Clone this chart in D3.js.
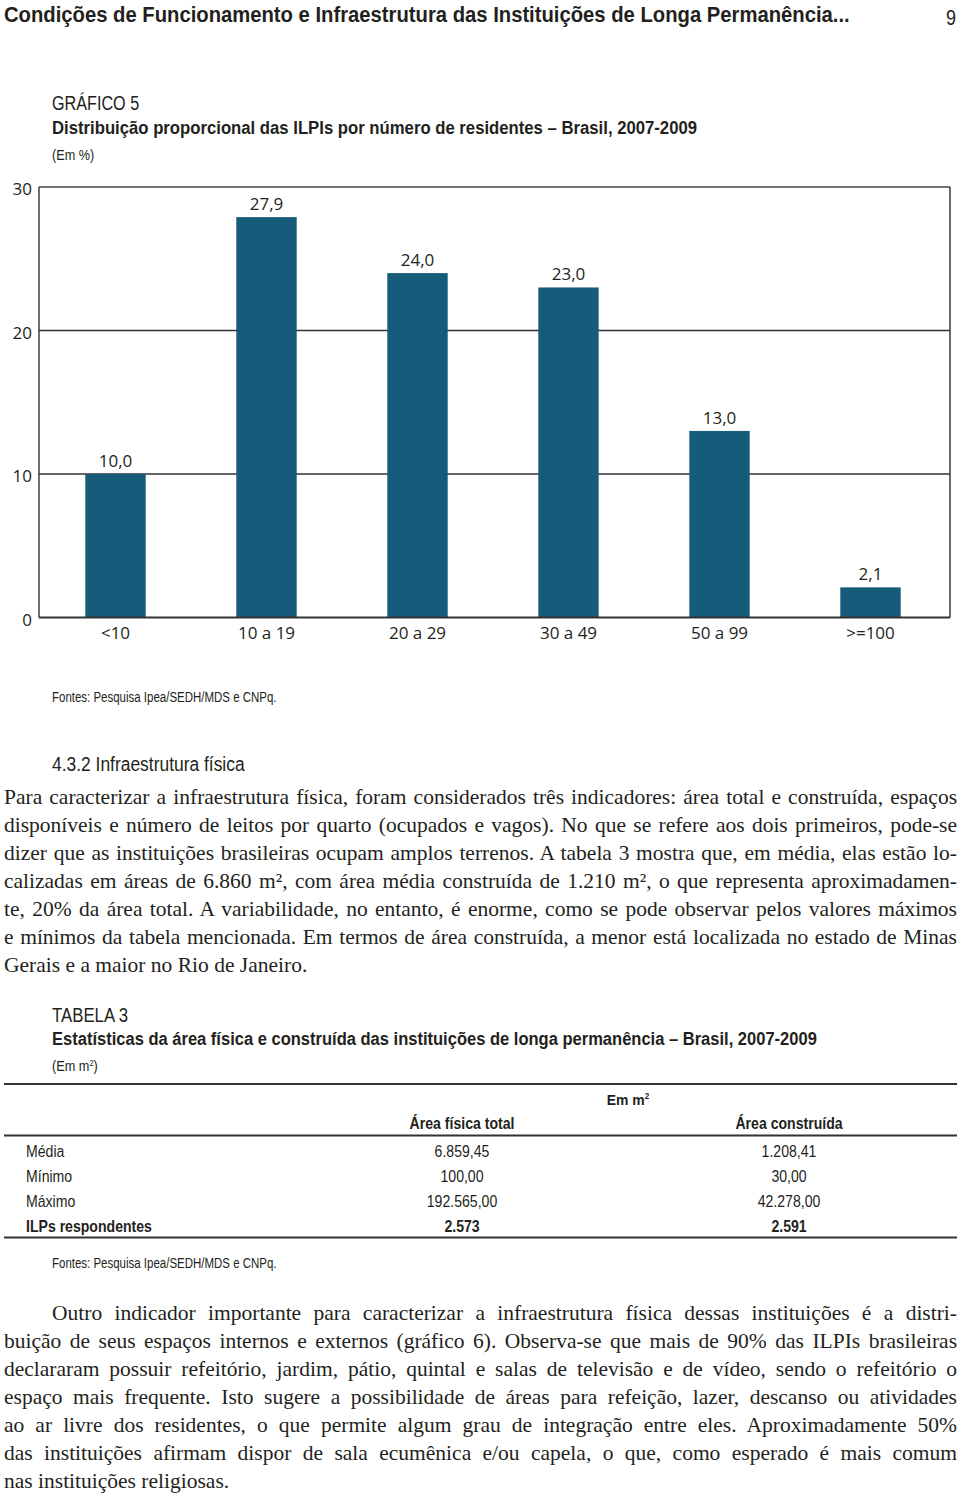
<!DOCTYPE html>
<html><head><meta charset="utf-8">
<script src="https://cdn.jsdelivr.net/npm/d3@7"></script>
<style>body{margin:0;background:#fff}</style></head>
<body>
<svg id="c" width="960" height="1497"></svg>
<script>
const categories = ["<10", "10 a 19", "20 a 29", "30 a 49", "50 a 99", ">=100"];
const values = [10.0, 27.9, 24.0, 23.0, 13.0, 2.1];
const yTicks = [0, 10, 20, 30];
const tableColumns = ["Área física total", "Área construída"];
const tableRows = ["Média", "Mínimo", "Máximo", "ILPs respondentes"];
const areaTotal = ["6.859,45", "100,00", "192.565,00", "2.573"];
const areaBuilt = ["1.208,41", "30,00", "42.278,00", "2.591"];

const para1 = [
 "Para caracterizar a infraestrutura física, foram considerados três indicadores: área total e construída, espaços",
 "disponíveis e número de leitos por quarto (ocupados e vagos). No que se refere aos dois primeiros, pode-se",
 "dizer que as instituições brasileiras ocupam amplos terrenos. A tabela 3 mostra que, em média, elas estão lo-",
 "calizadas em áreas de 6.860 m², com área média construída de 1.210 m², o que representa aproximadamen-",
 "te, 20% da área total. A variabilidade, no entanto, é enorme, como se pode observar pelos valores máximos",
 "e mínimos da tabela mencionada. Em termos de área construída, a menor está localizada no estado de Minas",
 "Gerais e a maior no Rio de Janeiro."
];
const para2 = [
 "Outro indicador importante para caracterizar a infraestrutura física dessas instituições é a distri-",
 "buição de seus espaços internos e externos (gráfico 6). Observa-se que mais de 90% das ILPIs brasileiras",
 "declararam possuir refeitório, jardim, pátio, quintal e salas de televisão e de vídeo, sendo o refeitório o",
 "espaço mais frequente. Isto sugere a possibilidade de áreas para refeição, lazer, descanso ou atividades",
 "ao ar livre dos residentes, o que permite algum grau de integração entre eles. Aproximadamente 50%",
 "das instituições afirmam dispor de sala ecumênica e/ou capela, o que, como esperado é mais comum",
 "nas instituições religiosas."
];

(function () {
const svg = d3.select("#c");
const COND = "'Liberation Sans Narrow', 'Arial Narrow', 'Liberation Sans', sans-serif";
const SANS = "'Open Sans', 'Noto Sans', sans-serif";
const SERIF = "'Liberation Serif', 'DejaVu Serif', serif";
const BAR = "#175b7a";
const INK = "#231f20";

function txt(x, y, s, size, family, weight, anchor) {
  return svg.append("text").attr("x", x).attr("y", y).text(s)
    .style("font-size", size + "px").style("font-family", family)
    .style("font-weight", weight || "normal").attr("fill", INK)
    .attr("text-anchor", anchor || "start");
}
// condensed text: horizontally squeezed by factor f via a transform
function ctxt(x, y, s, size, weight, f, anchor) {
  return svg.append("text").attr("transform", `translate(${x},${y}) scale(${f},1)`).text(s)
    .style("font-size", size + "px").style("font-family", COND)
    .style("font-weight", weight || "normal").attr("fill", INK)
    .attr("text-anchor", anchor || "start");
}

// Page header
ctxt(4, 22, "Condições de Funcionamento e Infraestrutura das Instituições de Longa Permanência...", 22.5, "bold", 0.9);
ctxt(956, 25, "9", 22.5, "normal", 0.8, "end");

// Chart titles
ctxt(52, 110, "GRÁFICO 5", 21, "normal", 0.77);
ctxt(52, 134, "Distribuição proporcional das ILPIs por número de residentes – Brasil, 2007-2009", 19, "bold", 0.88);
ctxt(52, 160, "(Em %)", 15.5, "normal", 0.82);

// Chart
const pL = 39, pR = 950, pT = 187, pB = 617.5;
const x = d3.scaleBand().domain(categories).range([40, 946]).paddingInner(0.6).paddingOuter(0.3);
const y = d3.scaleLinear().domain([0, 30]).range([pB, pT]);
const loc = d3.formatLocale({decimal: ",", thousands: ".", grouping: [3], currency: ["", ""]});
const fmt = loc.format(".1f");

const g = svg.append("g");
g.selectAll("line.grid").data(yTicks.filter(d => d > 0 && d < 30)).join("line")
  .attr("x1", pL).attr("x2", pR).attr("y1", d => y(d)).attr("y2", d => y(d))
  .attr("stroke", "#333").attr("stroke-width", 1.4);
g.append("line").attr("x1", pL).attr("x2", pR).attr("y1", pT).attr("y2", pT).attr("stroke", "#444").attr("stroke-width", 1.6);
g.append("line").attr("x1", pR).attr("x2", pR).attr("y1", pT).attr("y2", pB).attr("stroke", "#444").attr("stroke-width", 1.6);
g.append("line").attr("x1", pL).attr("x2", pL).attr("y1", pT).attr("y2", pB).attr("stroke", "#333").attr("stroke-width", 1.4);

g.selectAll("rect.bar").data(values).join("rect")
  .attr("x", (d, i) => x(categories[i])).attr("width", x.bandwidth())
  .attr("y", d => y(d)).attr("height", d => y(0) - y(d)).attr("fill", BAR);

g.append("line").attr("x1", pL).attr("x2", pR).attr("y1", pB).attr("y2", pB).attr("stroke", "#333").attr("stroke-width", 2);

g.selectAll("text.val").data(values).join("text")
  .attr("x", (d, i) => x(categories[i]) + x.bandwidth() / 2).attr("y", d => y(d) - 7)
  .attr("text-anchor", "middle").style("font-family", SANS).style("font-size", "17px").attr("fill", INK)
  .text(d => fmt(d));

const yAxis = d3.axisLeft(y).tickValues(yTicks).tickSize(0).tickPadding(7).tickFormat(d3.format("d"));
const ya = svg.append("g").attr("transform", `translate(${pL},0)`).call(yAxis);
ya.select(".domain").remove();
ya.selectAll("text").style("font-family", SANS).style("font-size", "17px").attr("fill", INK).attr("dy", "0.45em");

const xAxis = d3.axisBottom(x).tickSize(0).tickPadding(9);
const xa = svg.append("g").attr("transform", `translate(0,${pB})`).call(xAxis);
xa.select(".domain").remove();
xa.selectAll("text").style("font-family", SANS).style("font-size", "17px").attr("fill", INK);

ctxt(52, 702, "Fontes: Pesquisa Ipea/SEDH/MDS e CNPq.", 14, "normal", 0.82);

ctxt(52, 771, "4.3.2 Infraestrutura física", 21, "normal", 0.83);

function paragraph(lines, startY, firstIndent) {
  lines.forEach((s, i) => {
    const x0 = i === 0 ? firstIndent : 4;
    const width = 957 - x0;
    const t = txt(x0, startY + i * 28, s, 21.5, SERIF, "normal");
    if (i < lines.length - 1) {
      const w = t.node().getComputedTextLength();
      const n = (s.match(/ /g) || []).length;
      const ws = (width - w) / n;
      if (ws >= 0) t.style("word-spacing", ws + "px");
      else t.attr("textLength", width).attr("lengthAdjust", "spacingAndGlyphs");
    }
  });
}
paragraph(para1, 804, 4);

ctxt(52, 1022, "TABELA 3", 21, "normal", 0.8);
ctxt(52, 1045, "Estatísticas da área física e construída das instituições de longa permanência – Brasil, 2007-2009", 19, "bold", 0.87);
const em = ctxt(52, 1071, "(Em m", 15.5, "normal", 0.82);
em.append("tspan").text("2").attr("dy", -5).style("font-size", "9px");
em.append("tspan").text(")").attr("dy", 5);

[1084, 1135.5, 1237.5].forEach(yy => svg.append("line").attr("x1", 4).attr("x2", 957)
  .attr("y1", yy).attr("y2", yy).attr("stroke", "#333").attr("stroke-width", 1.8));

const colX = d3.scalePoint().domain(tableColumns).range([462, 789]);
const emh = ctxt(628, 1105, "Em m", 15.5, "bold", 0.9, "middle");
emh.append("tspan").text("2").attr("dy", -6).style("font-size", "9px");
tableColumns.forEach(c => ctxt(colX(c), 1129, c, 16, "bold", 0.88, "middle"));

const rowY = d3.scalePoint().domain(tableRows).range([1157, 1232]);
tableRows.forEach((r, i) => {
  const b = i === tableRows.length - 1 ? "bold" : "normal";
  ctxt(26, rowY(r), r, 16, b, 0.88);
  ctxt(colX(tableColumns[0]), rowY(r), areaTotal[i], 16, b, 0.88, "middle");
  ctxt(colX(tableColumns[1]), rowY(r), areaBuilt[i], 16, b, 0.88, "middle");
});

ctxt(52, 1268, "Fontes: Pesquisa Ipea/SEDH/MDS e CNPq.", 14, "normal", 0.82);

paragraph(para2, 1320, 52);
})();
</script>
</body></html>
